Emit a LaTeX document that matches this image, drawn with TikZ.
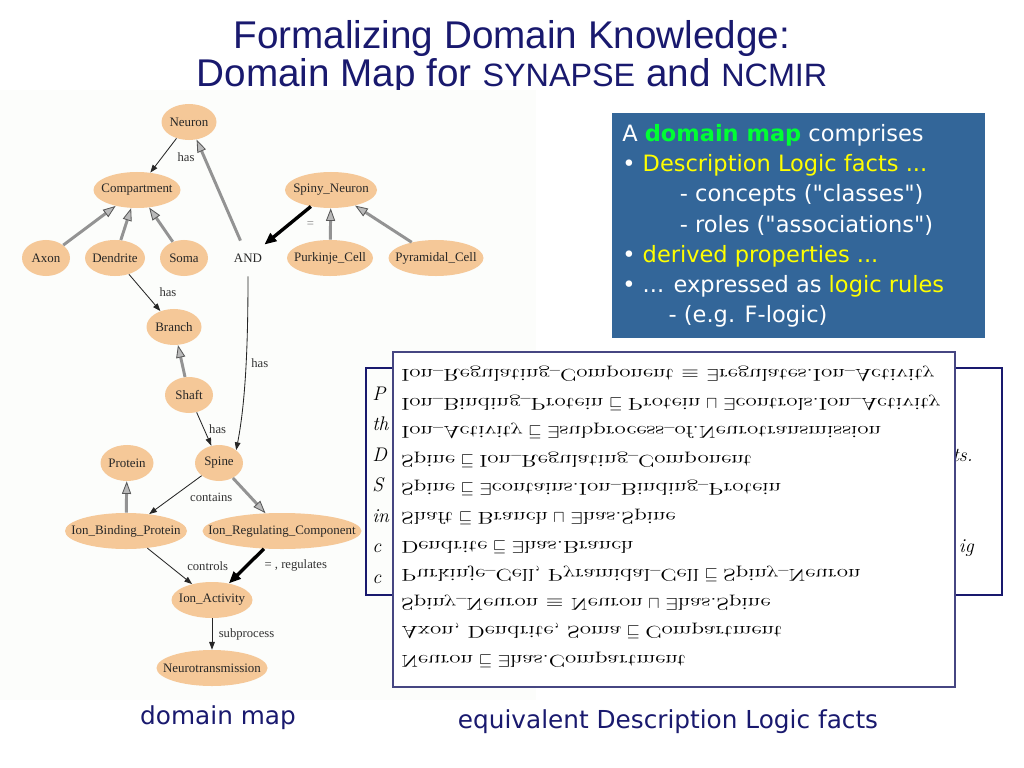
\documentclass[tikz,border=0pt]{standalone}
\usepackage{fontspec}
\usepackage{graphicx}
\usetikzlibrary{shapes.geometric,arrows.meta}
\newfontfamily\titlefont{Liberation Sans}
\newfontfamily\tahoma{DejaVu Sans}
\newfontfamily\dotfont{Liberation Serif}
\definecolor{navy}{RGB}{25,25,110}
\definecolor{peach}{RGB}{245,200,152}
\definecolor{slate}{RGB}{51,102,153}
\definecolor{lemon}{RGB}{255,255,0}
\definecolor{lime}{RGB}{0,255,51}
\definecolor{photo}{RGB}{252,253,251}
\definecolor{frame}{RGB}{70,70,130}
\newcommand\fl[1]{\raisebox{0.58em}{\scalebox{1.34}[-1]{#1}}}
\newcommand\us{\raisebox{0.2em}{\scalebox{0.6}[1.3]{\_}}}
\tikzset{
  conc/.style={ellipse, fill=peach, inner xsep=-2cm, inner ysep=0pt, minimum height=0.9cm, font=\dotfont\fontsize{9.2}{10}\selectfont, text=black!85},
  wd/.style={minimum width={#1*0.025cm}},
  role/.style={draw=black!85, line width=0.6pt, -{Triangle[length=5.5pt,width=4pt]}},
  isa/.style={draw=gray!85, line width=2.1pt, -{Triangle[length=9pt,width=6.5pt,fill=gray!55,color=gray!70!black,line width=0.6pt]}},
  same/.style={draw=black, line width=2.4pt, -{Triangle[length=8.5pt,width=7pt]}},
  lab/.style={font=\dotfont\fontsize{9}{10}\selectfont, text=black!80, inner sep=0.5pt},
  frag/.style={font=\itshape\fontsize{14}{16}\selectfont, anchor=base west, inner sep=0pt},
}
\begin{document}
\begin{tikzpicture}[x=0.025cm,y=-0.025cm]
\useasboundingbox (0,0) rectangle (1024,768);
% title
\node[font=\titlefont\fontsize{27.5}{30}\selectfont, text=navy, anchor=base] (title1) at (512,49) {Formalizing Domain Knowledge:};
\node[font=\titlefont\fontsize{27.5}{30}\selectfont, text=navy, anchor=base] (title2) at (512,87) {Domain Map for {\fontsize{23}{25}\selectfont SYNAPSE} and {\fontsize{23}{25}\selectfont NCMIR}};
% domain map
\fill[photo] (0,90) rectangle (536,700);
\node[conc, wd=55] (neuron) at (189,122) {Neuron};
\node[conc, wd=87] (comp) at (137,190) {Compartment};
\node[conc, wd=48] (axon) at (46,258) {Axon};
\node[conc, wd=60] (dendrite) at (115,258) {Dendrite};
\node[conc, wd=48] (soma) at (184,258) {Soma};
\node[conc, wd=48, fill=none] (and) at (248,258) {AND};
\node[conc, wd=92] (spiny) at (331,190) {Spiny\_Neuron};
\node[conc, wd=86] (purkinje) at (330,258) {Purkinje\_Cell};
\node[conc, wd=95] (pyramidal) at (436,258) {Pyramidal\_Cell};
\node[conc, wd=55] (branch) at (174,327) {Branch};
\node[conc, wd=48] (shaft) at (189,395) {Shaft};
\node[conc, wd=48] (spine) at (219,463) {Spine};
\node[conc, wd=53] (protein) at (127,463) {Protein};
\node[conc, wd=122] (ibp) at (126,531) {Ion\_Binding\_Protein};
\node[conc, wd=159] (irc) at (282,531) {Ion\_Regulating\_Component};
\node[conc, wd=81] (activity) at (212,600) {Ion\_Activity};
\node[conc, wd=111] (neurotrans) at (212,668) {Neurotransmission};
\draw[role] (neuron) -- node[lab, pos=.54, right=10pt] {has} (comp);
\draw[isa] (axon) -- (comp);
\draw[isa] (dendrite) -- (comp);
\draw[isa] (soma) -- (comp);
\draw[isa] (and) -- (neuron);
\draw[role] (dendrite) -- node[lab, pos=.49, right=10pt] {has} (branch);
\draw[same] (spiny) -- node[lab, pos=.47, right=11pt, text=gray] {=} (and);
\draw[isa] (purkinje) -- (spiny);
\draw[isa] (pyramidal) -- (spiny);
\draw[role] (and) .. controls (248,340) and (246,400) .. node[lab, pos=.47, right=3pt] {has} (spine.north east);
\draw[isa] (shaft) -- (branch);
\draw[role] (shaft) -- node[lab, pos=.49, right=3pt] {has} (spine);
\draw[role] (spine) -- node[lab, pos=.56, right=12pt] {contains} (ibp);
\draw[isa] (spine) -- (irc);
\draw[isa] (ibp) -- (protein);
\draw[role] (ibp) -- node[lab, pos=.49, right=12pt] {controls} (activity);
\draw[same] (irc) -- node[lab, pos=.49, right=11pt] {= , regulates} (activity);
\draw[role] (activity) -- node[lab, pos=.5, right=4pt] {subprocess} (neurotrans);
% blue box
\node[fill=slate, minimum width={373*0.025cm}, minimum height={225*0.025cm}] (dmbox) at (798.5,225.5) {};
\node[anchor=north west, align=left, inner sep=0pt, text=white, font=\tahoma\fontsize{16}{21.5}\selectfont] (dmtext) at (622,124) {%
A \textcolor{lime}{\textbf{domain map}} comprises\\
• \textcolor{lemon}{Description Logic facts ...}\\
\hspace*{41pt}- concepts ("classes")\\
\hspace*{41pt}- roles ("associations")\\
• \textcolor{lemon}{derived properties ...}\\
• ... expressed as \textcolor{lemon}{logic rules}\\
\hspace*{33pt}- (e.g. F-logic)};
% paper text behind the facts
\node[draw=navy, line width=0.8pt, minimum width={636*0.025cm}, minimum height={227*0.025cm}] (paper) at (684,481.5) {};
\node[frag] (fr1) at (372,400) {P};
\node[frag] (fr2) at (372,430.5) {th};
\node[frag] (fr3) at (372,461) {D};
\node[frag] (fr4) at (372,491.5) {S};
\node[frag] (fr5) at (372,522) {in};
\node[frag] (fr6) at (372,552.5) {c};
\node[frag] (fr7) at (372,583) {c};
\node[frag, anchor=base east] (fr8) at (973,461) {ts.};
\node[frag, anchor=base east] (fr9) at (974,552.5) {ig};
% description logic facts
\node[draw=frame, fill=white, line width=1pt, minimum width={562*0.025cm}, minimum height={335*0.025cm}] (dlbox) at (674,519.5) {};
\node[anchor=north west, align=left, inner sep=0pt, font=\fontsize{12.2}{20.3}\selectfont] (dltext) at (401,366) {%
\fl{Ion\us Regulating\us Component $\equiv$ $\exists$regulates.Ion\us Activity}\\
\fl{Ion\us Binding\us Protein} $\sqsubseteq$ \fl{Protein} $\sqcap$ \fl{$\exists$controls.Ion\us Activity}\\
\fl{Ion\us Activity} $\sqsubseteq$ \fl{$\exists$subprocess\us of.Neurotransmission}\\
\fl{Spine} $\sqsubseteq$ \fl{Ion\us Regulating\us Component}\\
\fl{Spine} $\sqsubseteq$ \fl{$\exists$contains.Ion\us Binding\us Protein}\\
\fl{Shaft} $\sqsubseteq$ \fl{Branch} $\sqcap$ \fl{$\exists$has.Spine}\\
\fl{Dendrite} $\sqsubseteq$ \fl{$\exists$has.Branch}\\
\fl{Purkinje\us Cell, Pyramidal\us Cell} $\sqsubseteq$ \fl{Spiny\us Neuron}\\
\fl{Spiny\us Neuron $\equiv$ Neuron} $\sqcap$ \fl{$\exists$has.Spine}\\
\fl{Axon, Dendrite, Soma} $\sqsubseteq$ \fl{Compartment}\\
\fl{Neuron} $\sqsubseteq$ \fl{$\exists$has.Compartment}};
% captions
\node[font=\tahoma\fontsize{17.6}{20}\selectfont, text=navy] (cap1) at (218,718) {domain map};
\node[font=\tahoma\fontsize{17.6}{20}\selectfont, text=navy] (cap2) at (668,722) {equivalent Description Logic facts};
\end{tikzpicture}
\end{document}
